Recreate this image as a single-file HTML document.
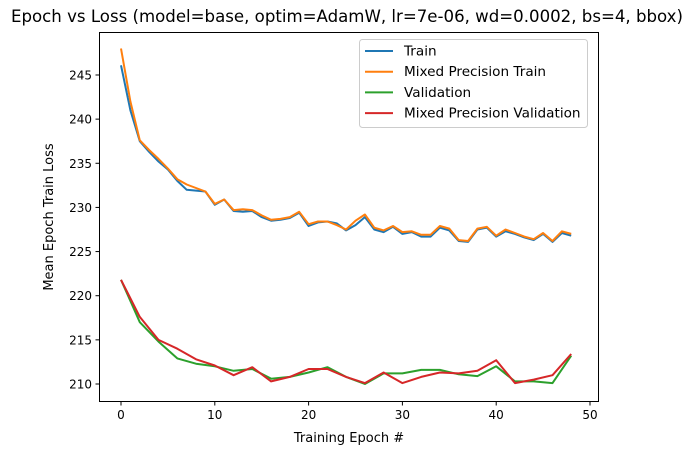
<!DOCTYPE html>
<html><head><meta charset="utf-8"><style>
body{margin:0;background:#fff;}
svg{display:block;font-family:"DejaVu Sans","Liberation Sans",sans-serif;}
</style></head><body>
<svg id="chart" width="692" height="455" viewBox="0 0 692 455">
<rect x="0" y="0" width="692" height="455" fill="#fff"/>
<text x="347" y="22" text-anchor="middle" font-size="16.6" fill="#000">Epoch vs Loss (model=base, optim=AdamW, lr=7e-06, wd=0.0002, bs=4, bbox)</text>
<g id="plot"></g>
<rect x="99.5" y="32.5" width="499" height="369" fill="none" stroke="#000" stroke-width="1"/>
<text x="349" y="442" text-anchor="middle" font-size="13">Training Epoch #</text>
<text transform="translate(53,217) rotate(-90)" text-anchor="middle" font-size="13">Mean Epoch Train Loss</text>
<g>
<rect x="359.5" y="39.5" width="228" height="88" rx="3" fill="#fff" fill-opacity="0.8" stroke="#ccc"/>
<g id="legend-items"></g>
</g>
</svg>
<script>
const trainEpochs=[0,1,2,3,4,5,6,7,8,9,10,11,12,13,14,15,16,17,18,19,20,21,22,23,24,25,26,27,28,29,30,31,32,33,34,35,36,37,38,39,40,41,42,43,44,45,46,47,48];
const trainLoss=[246.1,241,237.5,236.3,235.2,234.3,233,232,231.9,231.8,230.3,230.9,229.6,229.5,229.6,228.9,228.5,228.6,228.8,229.4,227.9,228.3,228.4,228.2,227.4,228,228.9,227.5,227.2,227.8,227,227.2,226.7,226.7,227.7,227.4,226.2,226.1,227.5,227.7,226.7,227.3,227,226.6,226.3,227,226.1,227.1,226.8];
const mpTrainLoss=[248,242,237.6,236.5,235.5,234.4,233.2,232.6,232.2,231.8,230.4,230.9,229.7,229.8,229.7,229.1,228.6,228.7,228.9,229.5,228.1,228.4,228.4,228,227.5,228.5,229.2,227.7,227.4,227.9,227.2,227.3,226.9,226.9,227.9,227.6,226.3,226.2,227.6,227.8,226.8,227.5,227.1,226.7,226.4,227.1,226.2,227.3,227];
const valEpochs=[0,2,4,6,8,10,12,14,16,18,20,22,24,26,28,30,32,34,36,38,40,42,44,46,48];
const valLoss=[221.8,217,214.8,212.9,212.3,212,211.5,211.7,210.6,210.8,211.3,211.9,210.8,210,211.2,211.2,211.6,211.6,211.1,210.9,212,210.3,210.3,210.1,213.2];
const mpValLoss=[221.8,217.6,215,214,212.8,212.1,211,211.9,210.3,210.8,211.7,211.7,210.8,210.1,211.3,210.1,210.8,211.3,211.2,211.5,212.7,210.1,210.5,211,213.4];
const xTicks=[0,10,20,30,40,50];
const yTicks=[210,215,220,225,230,235,240,245];
const seriesNames=["Train","Mixed Precision Train","Validation","Mixed Precision Validation"];
const seriesColors=["#1f77b4","#ff7f0e","#2ca02c","#d62728"];

const NS="http://www.w3.org/2000/svg";
function X(v){return 121+(v)*9.38;}
function Y(v){return 384-(v-210)*8.829;}
const g=document.getElementById('plot');
function mk(t,a){const e=document.createElementNS(NS,t);for(const k in a)e.setAttribute(k,a[k]);return e;}
xTicks.forEach(t=>{
  const l=mk('line',{x1:X(t),x2:X(t),y1:402,y2:405.5,stroke:'#000'});
  
  
  g.appendChild(l);
  const tx=mk('text',{x:X(t),y:419,'text-anchor':'middle','font-size':12});
  tx.textContent=t;
  
  
  g.appendChild(tx);
});
yTicks.forEach(t=>{
  const l=mk('line',{x1:95.5,x2:99.5,y1:Y(t),y2:Y(t),stroke:'#000'});
  
  
  g.appendChild(l);
  const tx=mk('text',{x:92,y:Y(t)+4.5,'text-anchor':'end','font-size':12});
  tx.textContent=t;
  
  
  g.appendChild(tx);
});
const series=[[trainEpochs,trainLoss],[trainEpochs,mpTrainLoss],[valEpochs,valLoss],[valEpochs,mpValLoss]];
const snames=['train-line','mixed-precision-train-line','validation-line','mixed-precision-validation-line'];
series.forEach((s,i)=>{
  const pts=s[0].map((e,j)=>X(e).toFixed(1)+','+Y(s[1][j]).toFixed(1)).join(' ');
  const p=mk('polyline',{points:pts,fill:'none',stroke:seriesColors[i],'stroke-width':2,'stroke-linejoin':'round'});
  
  
  g.appendChild(p);
});
const lg=document.getElementById('legend-items');
seriesNames.forEach((n,i)=>{
  const y=51+i*20.7;
  const l=mk('line',{x1:365,x2:393,y1:y,y2:y,stroke:seriesColors[i],'stroke-width':2});
  
  
  lg.appendChild(l);
  const t=mk('text',{x:404,y:y+4.5,'font-size':13.6});
  t.textContent=n;
  
  
  lg.appendChild(t);
});
</script>
</body></html>
